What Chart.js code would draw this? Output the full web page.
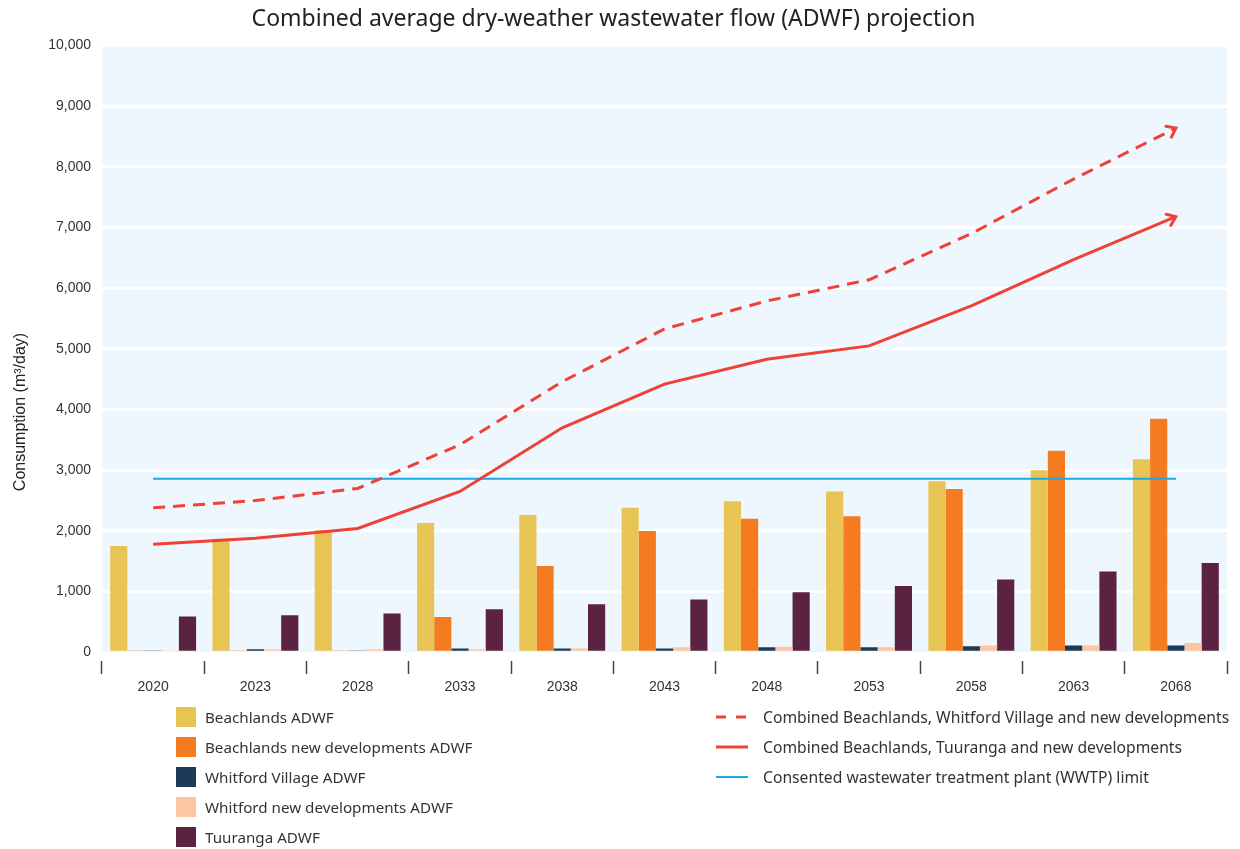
<!DOCTYPE html>
<html>
<head>
<meta charset="utf-8">
<title>ADWF projection</title>
<script src="https://cdn.jsdelivr.net/npm/chart.js@4.4.1/dist/chart.umd.min.js"></script>
<style>
  html, body { margin: 0; padding: 0; background: #fff; }
  #wrap { position: relative; width: 1240px; height: 849px; overflow: hidden; }
  #chartBox { position: absolute; left: 0; top: 0; width: 1240px; height: 705px; }
  .legend-col {
    position: absolute;
    top: 702px;
    font-family: "Noto Sans", sans-serif;
    font-size: 15.2px;
    color: #333;
  }
  #legendLines { font-size: 15.7px; }
  .legend-item { display: flex; align-items: center; height: 30px; white-space: nowrap; }
  .swatch { width: 20px; height: 20px; margin-right: 9px; }
  .line-sample { width: 32px; height: 6px; margin-right: 15px; }
</style>
</head>
<body>
<div id="wrap">
  <div id="chartBox"><canvas id="adwfChart"></canvas></div>
  <div class="legend-col" id="legendBars" style="left:176px;"></div>
  <div class="legend-col" id="legendLines" style="left:716px;"></div>
</div>
<script>
// Chart data
const years = ['2020', '2023', '2028', '2033', '2038', '2043', '2048', '2053', '2058', '2063', '2068'];

const beachlands      = [1750, 1870, 2010, 2130, 2260, 2380, 2490, 2650, 2820, 3000, 3180];
const beachlandsNew   = [30, 30, 30, 580, 1420, 2000, 2200, 2240, 2690, 3320, 3850];
const whitfordVillage = [30, 50, 30, 60, 60, 60, 80, 80, 100, 110, 110];
const whitfordNew     = [30, 50, 50, 50, 60, 80, 90, 80, 110, 110, 150];
const tuuranga        = [590, 610, 640, 710, 790, 870, 990, 1090, 1200, 1330, 1470];

const combinedWhitford = [2380, 2500, 2700, 3420, 4460, 5330, 5790, 6140, 6900, 7800, 8640];
const combinedTuuranga = [1780, 1880, 2040, 2650, 3700, 4420, 4830, 5050, 5710, 6470, 7180];
const wwtpLimit        = [2860, 2860, 2860, 2860, 2860, 2860, 2860, 2860, 2860, 2860, 2860];

const yTicks = [0, 1000, 2000, 3000, 4000, 5000, 6000, 7000, 8000, 9000, 10000];

// Colours
const colors = {
  yellow: '#e8c455',
  orange: '#f47b20',
  navy: '#1d3a57',
  peach: '#fdc6a2',
  purple: '#5c2341',
  red: '#ef4136',
  blue: '#1ca8e3',
  plotBg: '#eef7fd',
  text: '#333333',
};

const tickFont = '"Liberation Sans", Arial, sans-serif';

// light blue panel behind the plot
const plotBackground = {
  id: 'plotBackground',
  beforeDraw(chart) {
    const { ctx, chartArea } = chart;
    ctx.save();
    ctx.fillStyle = colors.plotBg;
    ctx.fillRect(chartArea.left, chartArea.top, chartArea.right - chartArea.left, chartArea.bottom - chartArea.top);
    ctx.restore();
  }
};

// y axis title sits lower than the axis middle in the original
const yAxisTitle = {
  id: 'yAxisTitle',
  afterDraw(chart) {
    const ctx = chart.ctx;
    ctx.save();
    ctx.translate(21, 412);
    ctx.rotate(-Math.PI / 2);
    ctx.fillStyle = '#222';
    ctx.font = '16px ' + tickFont;
    ctx.textAlign = 'center';
    ctx.textBaseline = 'middle';
    ctx.fillText('Consumption (m³/day)', 0, 0);
    ctx.restore();
  }
};

// open arrow heads at the end of the projection lines
const arrowHeads = {
  id: 'arrowHeads',
  afterDatasetsDraw(chart) {
    const ctx = chart.ctx;
    chart.data.datasets.forEach((ds, i) => {
      if (!ds.arrowHead) return;
      const pts = chart.getDatasetMeta(i).data;
      const a = pts[pts.length - 2];
      const b = pts[pts.length - 1];
      const ang = Math.atan2(b.y - a.y, b.x - a.x);
      const len = 10;
      ctx.save();
      ctx.strokeStyle = ds.borderColor;
      ctx.lineWidth = ds.borderWidth;
      ctx.lineCap = 'round';
      ctx.beginPath();
      ctx.moveTo(b.x - len * Math.cos(ang - 0.65), b.y - len * Math.sin(ang - 0.65));
      ctx.lineTo(b.x, b.y);
      ctx.lineTo(b.x - len * Math.cos(ang + 0.65), b.y - len * Math.sin(ang + 0.65));
      ctx.stroke();
      ctx.restore();
    });
  }
};

function barSet(label, data, color) {
  return {
    type: 'bar',
    label: label,
    data: data,
    backgroundColor: color,
    borderWidth: 0,
    categoryPercentage: 0.84,
    barPercentage: 1.0,
    order: 1,
  };
}

function lineSet(label, data, color, width, dash, arrow) {
  return {
    type: 'line',
    label: label,
    data: data,
    borderColor: color,
    backgroundColor: color,
    borderWidth: width,
    borderDash: dash,
    pointRadius: 0,
    tension: 0,
    fill: false,
    arrowHead: arrow,
    order: 0,
  };
}

const chart = new Chart(document.getElementById('adwfChart'), {
  type: 'bar',
  data: {
    labels: years,
    datasets: [
      barSet('Beachlands ADWF', beachlands, colors.yellow),
      barSet('Beachlands new developments ADWF', beachlandsNew, colors.orange),
      barSet('Whitford Village ADWF', whitfordVillage, colors.navy),
      barSet('Whitford new developments ADWF', whitfordNew, colors.peach),
      barSet('Tuuranga ADWF', tuuranga, colors.purple),
      lineSet('Combined Beachlands, Whitford Village and new developments', combinedWhitford, colors.red, 3, [12, 8], true),
      lineSet('Combined Beachlands, Tuuranga and new developments', combinedTuuranga, colors.red, 3, [], true),
      lineSet('Consented wastewater treatment plant (WWTP) limit', wwtpLimit, colors.blue, 2, [], false),
    ]
  },
  options: {
    responsive: true,
    maintainAspectRatio: false,
    animation: false,
    layout: { padding: { left: 0, right: 13, bottom: 4, top: 0 } },
    plugins: {
      legend: { display: false },
      tooltip: { enabled: false },
      title: {
        display: true,
        text: 'Combined average dry-weather wastewater flow (ADWF) projection',
        color: '#222',
        font: { family: '"Noto Sans", sans-serif', size: 23, weight: 'normal' },
        padding: { top: 6, bottom: 12 },
      }
    },
    scales: {
      x: {
        border: { display: false },
        grid: {
          display: true,
          drawOnChartArea: false,
          drawTicks: true,
          tickLength: 22,
          tickColor: '#444',
          tickWidth: 1.5,
          tickBorderDash: [0, 9, 13, 100],
        },
        ticks: {
          color: colors.text,
          padding: 5,
          font: { family: tickFont, size: 14 },
        }
      },
      y: {
        min: 0,
        max: 10000,
        border: { display: false },
        afterFit(scale) { scale.width = 102; },
        afterBuildTicks(scale) { scale.ticks = yTicks.map(v => ({ value: v })); },
        grid: {
          color: ctx => (ctx.tick && ctx.tick.value === 0) ? 'rgba(0,0,0,0)' : '#ffffff',
          lineWidth: 3,
          drawTicks: false,
        },
        ticks: {
          color: colors.text,
          padding: 11,
          font: { family: tickFont, size: 14 },
          callback: v => v.toLocaleString('en-US'),
        }
      }
    }
  },
  plugins: [plotBackground, arrowHeads, yAxisTitle]
});

// HTML legend in two columns, built from the datasets
function buildLegend() {
  const barCol = document.getElementById('legendBars');
  const lineCol = document.getElementById('legendLines');
  chart.data.datasets.forEach(ds => {
    const item = document.createElement('div');
    item.className = 'legend-item';
    let sample;
    if (ds.type === 'bar') {
      sample = document.createElement('div');
      sample.className = 'swatch';
      sample.style.background = ds.backgroundColor;
    } else {
      sample = document.createElementNS('http://www.w3.org/2000/svg', 'svg');
      sample.setAttribute('class', 'line-sample');
      sample.setAttribute('width', '32');
      sample.setAttribute('height', '6');
      const ln = document.createElementNS('http://www.w3.org/2000/svg', 'line');
      ln.setAttribute('x1', '0');
      ln.setAttribute('x2', '32');
      ln.setAttribute('y1', '3');
      ln.setAttribute('y2', '3');
      ln.setAttribute('stroke', ds.borderColor);
      ln.setAttribute('stroke-width', ds.borderWidth);
      if (ds.borderDash && ds.borderDash.length) ln.setAttribute('stroke-dasharray', '10 10');
      sample.appendChild(ln);
    }
    const text = document.createElement('span');
    text.textContent = ds.label;
    item.appendChild(sample);
    item.appendChild(text);
    (ds.type === 'bar' ? barCol : lineCol).appendChild(item);
  });
}
buildLegend();
</script>
</body>
</html>
